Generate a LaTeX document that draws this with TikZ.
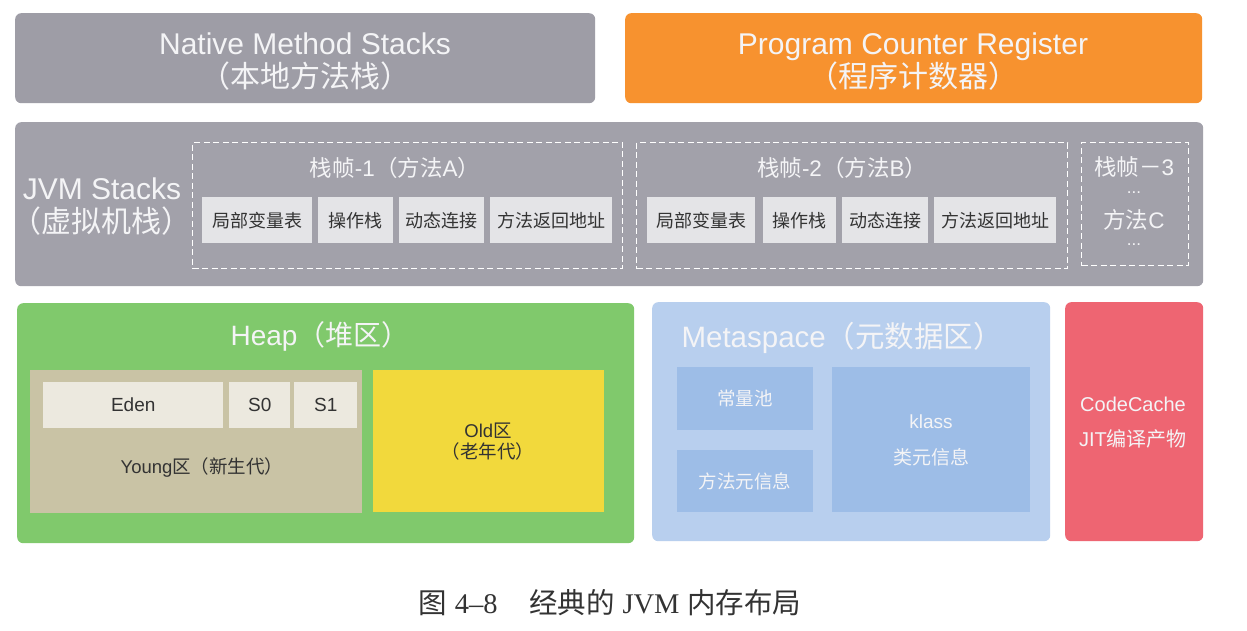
\documentclass[tikz,border=0pt]{standalone}
\usepackage{fontspec}
\setmainfont{Liberation Sans}
\newfontfamily\cjk{Noto Sans CJK SC}
\newfontfamily\capserif{Liberation Serif}
\definecolor{nativegray}{HTML}{9E9DA6}
\definecolor{pcorange}{HTML}{F7922F}
\definecolor{stackgray}{HTML}{A2A1AA}
\definecolor{cellgray}{HTML}{E4E4E7}
\definecolor{celltext}{HTML}{333333}
\definecolor{titlewhite}{HTML}{F4F4F6}
\definecolor{heapgreen}{HTML}{80C96C}
\definecolor{youngtan}{HTML}{C9C3A5}
\definecolor{edencell}{HTML}{ECE9DF}
\definecolor{oldyellow}{HTML}{F2D93C}
\definecolor{metablue}{HTML}{B8CFEE}
\definecolor{metainner}{HTML}{9DBDE7}
\definecolor{codered}{HTML}{EE6572}
\definecolor{captext}{HTML}{333333}
\tikzset{
  panel/.style={rounded corners=6pt, anchor=north west, inner sep=0pt, draw=none},
  cellbox/.style={fill=cellgray, anchor=north west, inner sep=0pt, text=celltext,
    font=\cjk\fontsize{18}{20}\selectfont},
  heapcell/.style={fill=edencell, anchor=north west, inner sep=0pt, text=celltext,
    font=\fontsize{19}{20}\selectfont},
  frameline/.style={draw=white, line width=1.4pt, dash pattern=on 6pt off 3.5pt,
    anchor=north west, inner sep=0pt},
  bigtitle/.style={text=titlewhite, align=center, font=\fontsize{30}{33}\selectfont},
  frametitle/.style={text=titlewhite, font=\fontsize{22.5}{24}\selectfont},
  dotlabel/.style={text=titlewhite, inner sep=0pt, font=\fontsize{17}{17}\selectfont},
  darklabel/.style={text=celltext, align=center, font=\fontsize{18.5}{21}\selectfont},
  innerbox/.style={fill=metainner, anchor=north west, inner sep=0pt, text=titlewhite,
    font=\cjk\fontsize{18.5}{20}\selectfont},
  whitelabel/.style={text=titlewhite, align=center, font=\fontsize{19}{36}\selectfont},
}
\begin{document}
\begin{tikzpicture}[x=1pt,y=-1pt]
\useasboundingbox[fill=white] (0,0) rectangle (1247,631);
% top row
\node[panel, fill=nativegray, minimum width=580pt, minimum height=90pt] (native) at (15,13) {};
\node[bigtitle] (nativet) at (305,62) {Native Method Stacks\\{\cjk （本地方法栈）}};
\node[panel, fill=pcorange, minimum width=577pt, minimum height=90pt] (pc) at (625,13) {};
\node[bigtitle] (pct) at (913,62) {Program Counter Register\\{\cjk （程序计数器）}};
% JVM stacks
\node[panel, fill=stackgray, minimum width=1188pt, minimum height=164pt] (jvm) at (15,122) {};
\node[bigtitle] (jvmt) at (102,207) {JVM Stacks\\{\cjk （虚拟机栈）}};
% frame 1
\node[frameline, minimum width=430pt, minimum height=126pt] (f1) at (192,142) {};
\node[frametitle] (f1t) at (395,168) {{\cjk 栈帧}-1{\cjk （方法}A{\cjk ）}};
\node[cellbox, minimum width=110pt, minimum height=46pt] (a1) at (202,197) {局部变量表};
\node[cellbox, minimum width=75pt, minimum height=46pt] (a2) at (318,197) {操作栈};
\node[cellbox, minimum width=85pt, minimum height=46pt] (a3) at (399,197) {动态连接};
\node[cellbox, minimum width=122pt, minimum height=46pt] (a4) at (490,197) {方法返回地址};
% frame 2
\node[frameline, minimum width=431pt, minimum height=126pt] (f2) at (636,142) {};
\node[frametitle] (f2t) at (842,168) {{\cjk 栈帧}-2{\cjk （方法}B{\cjk ）}};
\node[cellbox, minimum width=108pt, minimum height=46pt] (b1) at (647,197) {局部变量表};
\node[cellbox, minimum width=73pt, minimum height=46pt] (b2) at (763,197) {操作栈};
\node[cellbox, minimum width=86pt, minimum height=46pt] (b3) at (842,197) {动态连接};
\node[cellbox, minimum width=122pt, minimum height=46pt] (b4) at (934,197) {方法返回地址};
% frame 3
\node[frameline, minimum width=107pt, minimum height=123pt] (f3) at (1081,142) {};
\node[frametitle] (f3t) at (1134,167) {{\cjk 栈帧－}3};
\node[dotlabel] (f3d1) at (1134,193) {...};
\node[frametitle] (f3m) at (1134,220) {{\cjk 方法}C};
\node[dotlabel] (f3d2) at (1134,245) {...};
% heap
\node[panel, fill=heapgreen, minimum width=617pt, minimum height=240pt] (heap) at (17,303) {};
\node[bigtitle, font=\fontsize{28}{32}\selectfont] (heapt) at (320,336) {Heap{\cjk （堆区）}};
\node[fill=youngtan, anchor=north west, inner sep=0pt, minimum width=332pt, minimum height=143pt] (young) at (30,370) {};
\node[heapcell, minimum width=180pt, minimum height=46pt] (eden) at (43,382) {Eden};
\node[heapcell, minimum width=61pt, minimum height=46pt] (s0) at (229,382) {S0};
\node[heapcell, minimum width=63pt, minimum height=46pt] (s1) at (294,382) {S1};
\node[darklabel] (youngt) at (202,467) {Young{\cjk 区（新生代）}};
\node[fill=oldyellow, anchor=north west, inner sep=0pt, minimum width=231pt, minimum height=142pt] (old) at (373,370) {};
\node[darklabel] (oldt) at (488,442) {Old{\cjk 区}\\{\cjk （老年代）}};
% metaspace
\node[panel, fill=metablue, minimum width=398pt, minimum height=239pt] (meta) at (652,302) {};
\node[text=titlewhite, anchor=west, font=\fontsize{29.5}{32}\selectfont] (metat) at (678,338) {Metaspace{\cjk （元数据区）}};
\node[innerbox, minimum width=136pt, minimum height=63pt] (pool) at (677,367) {常量池};
\node[innerbox, minimum width=136pt, minimum height=62pt] (minfo) at (677,450) {方法元信息};
\node[innerbox, minimum width=198pt, minimum height=145pt] (klass) at (832,367) {};
\node[whitelabel] (klasst) at (931,440) {klass\\{\cjk 类元信息}};
% code cache
\node[panel, fill=codered, minimum width=138pt, minimum height=239pt] (code) at (1065,302) {};
\node[whitelabel, font=\fontsize{20}{35}\selectfont] (codet) at (1133,423) {CodeCache\\JIT{\cjk 编译产物}};
% caption
\node[text=captext, font=\fontsize{28.5}{30}\selectfont] (cap) at (610,603) {{\cjk 图} {\capserif 4–8}\hspace{1.1em}{\cjk 经典的} {\capserif JVM} {\cjk 内存布局}};
\end{tikzpicture}
\end{document}
